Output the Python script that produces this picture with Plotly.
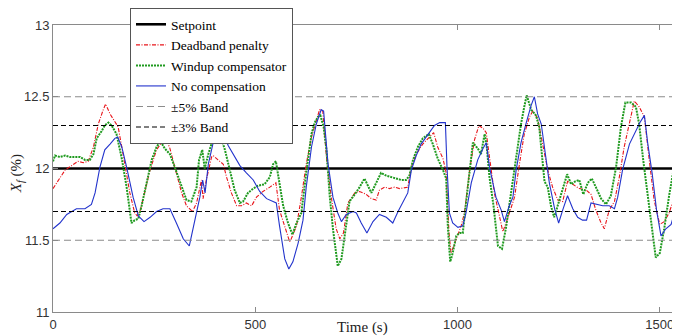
import plotly.graph_objects as go

# ---------------- data ----------------
t_range = [0, 1550]
setpoint = 12.0
band5 = [11.5, 12.5]
band3 = [11.7, 12.3]

t_dead = [0, 13, 30, 46, 62, 75, 87, 100, 112, 123, 130, 141, 153, 161, 170, 178, 190, 202, 208, 216,
          227, 240, 256, 268, 279, 289, 301, 318, 330, 345, 355, 367, 371, 379, 392, 396, 408, 421, 429, 441,
          454, 466, 478, 491, 503, 519, 536, 551, 560, 573, 585, 589, 602, 614, 626, 639, 651, 659, 667, 676,
          688, 700, 709, 718, 729, 746, 758, 774, 787, 799, 807, 820, 832, 844, 857, 877, 886, 898, 914, 931,
          941, 951, 964, 972, 979, 984, 993, 1001, 1009, 1017, 1030, 1042, 1053, 1063, 1071, 1079, 1091, 1102,
          1112, 1120, 1128, 1141, 1153, 1165, 1178, 1186, 1198, 1211, 1223, 1235, 1248, 1260, 1272, 1285, 1301,
          1318, 1330, 1342, 1355, 1363, 1375, 1388, 1400, 1412, 1425, 1437, 1449, 1462, 1474, 1486, 1500, 1511,
          1523, 1536, 1550]
x_dead = [11.86, 11.92, 11.99, 12.02, 12.05, 12.04, 12.05, 12.15, 12.31, 12.40, 12.45, 12.38, 12.32, 12.29,
          12.15, 12.01, 11.83, 11.69, 11.67, 11.71, 11.83, 11.99, 12.13, 12.18, 12.21, 12.14, 12.01, 11.83,
          11.74, 11.70, 11.76, 11.92, 11.79, 11.92, 12.08, 12.09, 12.06, 12.03, 11.94, 11.83, 11.74, 11.74,
          11.76, 11.74, 11.80, 11.84, 11.87, 11.90, 11.71, 11.60, 11.49, 11.51, 11.60, 11.80, 12.03, 12.22,
          12.33, 12.41, 12.40, 12.08, 11.80, 11.58, 11.51, 11.55, 11.76, 11.83, 11.84, 11.82, 11.79, 11.78,
          11.85, 11.87, 11.86, 11.87, 11.86, 11.87, 12.01, 12.10, 12.17, 12.22, 12.25, 12.15, 12.07, 11.97,
          11.55, 11.41, 11.48, 11.55, 11.60, 11.69, 11.99, 12.20, 12.30, 12.28, 12.25, 12.08, 11.83, 11.69,
          11.56, 11.62, 11.69, 11.80, 12.03, 12.24, 12.36, 12.40, 12.35, 12.17, 11.99, 11.87, 11.78, 11.77,
          11.91, 11.89, 11.86, 11.85, 11.82, 11.71, 11.62, 11.58, 11.71, 11.77, 11.94, 12.15, 12.33, 12.47,
          12.43, 12.36, 12.06, 11.78, 11.61, 11.63, 11.69, 11.80, 12.10]

t_windup = [0, 5, 17, 30, 42, 54, 67, 79, 91, 100, 108, 120, 128, 137, 145, 157, 170, 182, 194, 202, 211,
            219, 231, 244, 256, 266, 276, 289, 301, 318, 330, 342, 355, 361, 369, 375, 384, 396, 408, 416, 425,
            437, 449, 462, 470, 482, 495, 507, 523, 536, 544, 551, 559, 569, 581, 592, 602, 614, 626, 639, 647,
            655, 661, 669, 676, 684, 692, 700, 704, 713, 721, 733, 746, 758, 770, 779, 787, 799, 811, 824, 836,
            849, 861, 873, 881, 890, 902, 914, 929, 939, 951, 964, 972, 976, 982, 988, 997, 1005, 1013, 1021,
            1030, 1038, 1050, 1058, 1067, 1072, 1079, 1089, 1100, 1110, 1120, 1132, 1145, 1157, 1165, 1171,
            1182, 1194, 1202, 1209, 1215, 1223, 1231, 1239, 1252, 1260, 1271, 1281, 1291, 1301, 1311, 1322,
            1332, 1342, 1355, 1367, 1379, 1392, 1404, 1415, 1429, 1441, 1449, 1459, 1470, 1481, 1490, 1500,
            1511, 1523, 1536, 1550]
x_windup = [12.05, 12.09, 12.08, 12.09, 12.08, 12.08, 12.08, 12.06, 12.06, 12.10, 12.21, 12.26, 12.30, 12.32,
            12.30, 12.24, 12.07, 11.87, 11.62, 11.64, 11.65, 11.74, 11.90, 12.06, 12.15, 12.19, 12.14, 12.10,
            12.01, 11.87, 11.78, 11.77, 11.87, 12.06, 12.13, 12.00, 12.10, 12.21, 12.22, 12.21, 12.13, 11.99,
            11.85, 11.76, 11.77, 11.83, 11.86, 11.88, 11.89, 11.94, 12.03, 12.05, 11.90, 11.74, 11.62, 11.54,
            11.62, 11.69, 11.97, 12.24, 12.32, 12.36, 12.37, 12.29, 12.13, 11.81, 11.58, 11.41, 11.32, 11.37,
            11.53, 11.77, 11.82, 11.87, 11.93, 11.87, 11.83, 11.90, 11.97, 11.95, 11.94, 11.93, 11.92, 11.92,
            11.95, 12.06, 12.15, 12.21, 12.24, 12.17, 12.07, 11.99, 11.93, 11.60, 11.35, 11.41, 11.53, 11.55,
            11.55, 11.76, 11.99, 12.18, 12.14, 12.10, 12.24, 12.16, 11.94, 11.74, 11.46, 11.44, 11.59, 11.83,
            12.06, 12.31, 12.43, 12.51, 12.41, 12.37, 12.29, 12.06, 11.91, 11.87, 11.74, 11.66, 11.78, 11.87,
            11.96, 11.89, 11.91, 11.92, 11.82, 11.90, 11.93, 11.87, 11.79, 11.75, 11.81, 12.01, 12.29, 12.46,
            12.46, 12.43, 12.31, 12.06, 11.81, 11.60, 11.38, 11.41, 11.58, 11.81, 12.03, 12.25]

t_nocomp = [0, 17, 34, 46, 58, 71, 79, 95, 104, 116, 128, 141, 153, 160, 170, 182, 198, 211, 225, 240, 256,
            272, 289, 305, 322, 337, 355, 363, 370, 376, 384, 396, 408, 419, 433, 445, 462, 478, 495, 511, 528,
            544, 552, 560, 573, 583, 593, 606, 618, 626, 639, 651, 663, 669, 680, 692, 704, 713, 725, 742, 750,
            762, 776, 791, 807, 824, 840, 853, 865, 877, 886, 898, 910, 927, 943, 956, 970, 974, 980, 988, 1001,
            1013, 1021, 1034, 1050, 1063, 1071, 1079, 1095, 1108, 1116, 1128, 1137, 1145, 1157, 1170, 1182, 1190,
            1198, 1207, 1215, 1227, 1240, 1250, 1260, 1272, 1285, 1297, 1309, 1319, 1330, 1342, 1359, 1375, 1388,
            1396, 1408, 1425, 1441, 1451, 1462, 1470, 1481, 1492, 1503, 1515, 1528, 1536, 1550]
x_nocomp = [11.58, 11.62, 11.68, 11.70, 11.72, 11.72, 11.72, 11.75, 11.83, 12.01, 12.13, 12.17, 12.21, 12.22,
            12.15, 12.01, 11.80, 11.67, 11.63, 11.66, 11.70, 11.72, 11.72, 11.62, 11.51, 11.46, 11.69, 11.80,
            11.92, 11.83, 12.03, 12.18, 12.22, 12.26, 12.16, 12.10, 12.02, 11.97, 11.92, 11.84, 11.79, 11.77,
            11.76, 11.60, 11.37, 11.30, 11.35, 11.48, 11.64, 11.87, 12.15, 12.31, 12.41, 12.40, 12.03, 11.80,
            11.69, 11.63, 11.68, 11.70, 11.69, 11.62, 11.55, 11.63, 11.68, 11.66, 11.62, 11.70, 11.77, 11.83,
            11.99, 12.09, 12.17, 12.24, 12.30, 12.32, 12.32, 12.01, 11.69, 11.62, 11.59, 11.60, 11.69, 11.90,
            12.06, 12.14, 12.18, 12.01, 11.80, 11.71, 11.63, 11.74, 11.80, 11.99, 12.18, 12.32, 12.44, 12.50,
            12.38, 12.31, 12.13, 11.90, 11.72, 11.62, 11.71, 11.81, 11.72, 11.66, 11.64, 11.64, 11.76, 11.75,
            11.74, 11.74, 11.72, 11.80, 11.99, 12.17, 12.26, 12.32, 12.37, 12.18, 11.97, 11.71, 11.53, 11.58,
            11.61, 11.69, 11.90]

x_ticks = [0, 500, 1000, 1500]
y_ticks = [11, 11.5, 12, 12.5, 13]

# ---------------- figure ----------------
SERIF = "Liberation Serif"
SANS = "Liberation Sans"

fig = go.Figure()

fig.add_trace(go.Scatter(x=t_range, y=[setpoint, setpoint], mode="lines", name="Setpoint",
                         line=dict(color="black", width=2.6)))
fig.add_trace(go.Scatter(x=t_dead, y=x_dead, mode="lines", name="Deadband penalty",
                         line=dict(color="#e8141a", width=1.1, dash="4px,1.5px,1px,1.5px")))
fig.add_trace(go.Scatter(x=t_windup, y=x_windup, mode="lines", name="Windup compensator",
                         line=dict(color="#1f9a1f", width=2.0, dash="2px,1px")))
fig.add_trace(go.Scatter(x=t_nocomp, y=x_nocomp, mode="lines", name="No compensation",
                         line=dict(color="#2233cc", width=1.1)))
fig.add_trace(go.Scatter(x=[t_range[0], t_range[1], None, t_range[0], t_range[1]],
                         y=[band5[1], band5[1], None, band5[0], band5[0]],
                         mode="lines", name="±5% Band",
                         line=dict(color="#8c8c8c", width=1.1, dash="7px,4px")))
fig.add_trace(go.Scatter(x=[t_range[0], t_range[1], None, t_range[0], t_range[1]],
                         y=[band3[1], band3[1], None, band3[0], band3[0]],
                         mode="lines", name="±3% Band",
                         line=dict(color="black", width=1.1, dash="5px,3px")))

axis_common = dict(showline=True, linecolor="#8a8a8a", linewidth=1, mirror="ticks",
                   ticks="inside", ticklen=5, tickcolor="#8a8a8a", showgrid=False, zeroline=False,
                   tickfont=dict(family=SANS, size=13, color="#333333"))

fig.update_xaxes(range=t_range, tickvals=x_ticks, **axis_common)
fig.update_yaxes(range=[y_ticks[0], y_ticks[-1]], tickvals=y_ticks, **axis_common)

# the page body has an 8px margin, so the figure is sized to fit the 680x336 window
fig.update_layout(
    width=672, height=328, autosize=False,
    margin=dict(l=45, r=0, t=14, b=24),
    plot_bgcolor="white", paper_bgcolor="white",
    font=dict(family=SERIF, size=13, color="black"),
    showlegend=True,
    legend=dict(x=0.1228, y=1.06, xanchor="left", yanchor="top",
                bgcolor="white", bordercolor="#555555", borderwidth=1,
                font=dict(family=SERIF, size=13.5, color="black"),
                tracegroupgap=0, itemwidth=30),
    annotations=[
        dict(text="Time (s)", xref="paper", yref="paper", x=0.493, y=-0.055,
             xanchor="center", yanchor="middle", showarrow=False,
             font=dict(family=SERIF, size=15, color="#222222")),
        dict(text="<i>X</i><sub><i>f</i></sub> (%)", xref="paper", yref="paper",
             x=-0.0574, y=0.48, xanchor="center", yanchor="middle", textangle=-90,
             showarrow=False, font=dict(family=SERIF, size=15, color="#222222")),
    ],
)

fig.write_html("out.html")
